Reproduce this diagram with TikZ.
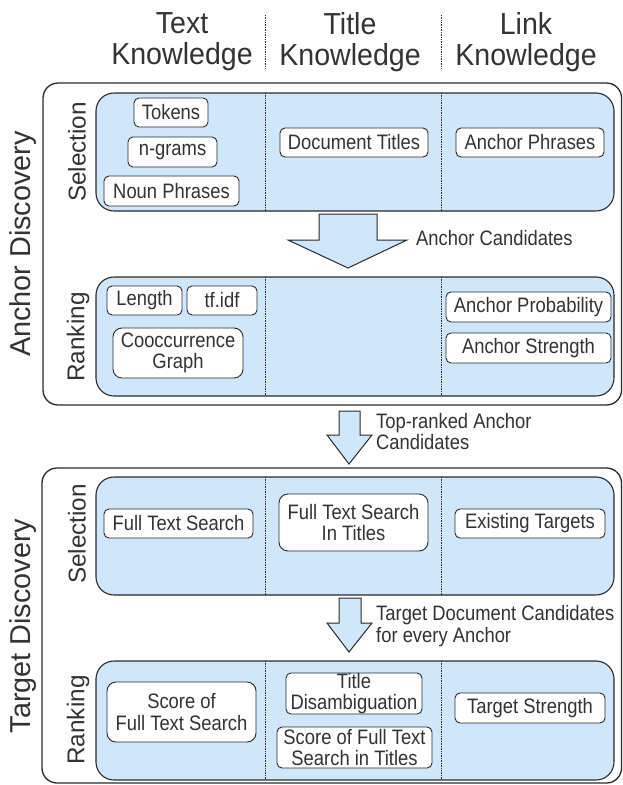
\documentclass[tikz,border=0pt]{standalone}
\usepackage{fontspec}
\setmainfont{Liberation Sans}
\newfontfamily\narrowfont{Liberation Sans}[FakeStretch=0.88]
\newfontfamily\hdnarrow{Liberation Sans}[FakeStretch=0.94]
\definecolor{lblue}{HTML}{CFE6FB}
\definecolor{ink}{HTML}{333333}
\definecolor{edge}{HTML}{2A2A2A}
\newcommand{\hdfont}{\hdnarrow\fontsize{30.4pt}{31pt}\selectfont}
\newcommand{\sdfont}{\fontsize{28.8pt}{31pt}\selectfont}
\newcommand{\itfont}{\narrowfont\fontsize{20.9pt}{21.5pt}\selectfont}
\newcommand{\lbfont}{\fontsize{24.3pt}{26pt}\selectfont}
\begin{document}
\begin{tikzpicture}[x=1pt,y=-1pt,
  every node/.style={text=ink},
  header/.style={font=\hdfont, align=center, inner sep=0pt},
  sidelabel/.style={font=\sdfont, rotate=90, inner sep=0pt},
  phaselabel/.style={font=\lbfont, rotate=90, inner sep=0pt},
  outerbox/.style={draw=edge, line width=1.3pt, fill=white, rounded corners=15pt},
  innerbox/.style={draw=edge, line width=1.1pt, fill=lblue, rounded corners=18pt},
  item/.style={draw=edge, line width=0.9pt, fill=white, rounded corners=5pt,
    font=\itfont, align=center, inner sep=0pt},
  bigitem/.style={item, rounded corners=9pt},
  divider/.style={draw=edge, densely dotted, line width=0.7pt},
  blockarrow/.style={draw=edge, line width=1pt, fill=lblue, line join=miter},
  arrowlabel/.style={font=\itfont, align=left, inner sep=0pt, anchor=west}
]
\useasboundingbox (0,0) rectangle (623,785);

% header
\node[header] (hText)  at (182,42) {Text\\Knowledge};
\node[header] (hTitle) at (350,42) {Title\\Knowledge};
\node[header] (hLink)  at (526,42) {Link\\Knowledge};
\draw[divider] (265,15) -- (265,68);
\draw[divider] (441,15) -- (441,68);

% outer boxes
\draw[outerbox] (43,83) rectangle (621.5,405);
\draw[outerbox] (42,468) rectangle (621.5,783);
\node[sidelabel] (anchorD) at (23,244) {Anchor Discovery};
\node[sidelabel] (targetD) at (23,626) {Target Discovery};

% inner boxes
\draw[innerbox] (96,93) rectangle (614,211);
\draw[innerbox] (96,277) rectangle (614,396);
\draw[innerbox] (96,477) rectangle (614,595);
\draw[innerbox] (96,661) rectangle (614,780);
\foreach \xx in {265,441}{
  \draw[divider] (\xx,93) -- (\xx,211);
  \draw[divider] (\xx,277) -- (\xx,396);
  \draw[divider] (\xx,477) -- (\xx,595);
  \draw[divider] (\xx,661) -- (\xx,780);
}
\node[phaselabel] (selA) at (77,152) {Selection};
\node[phaselabel] (rankA) at (78,337) {Ranking};
\node[phaselabel] (selT) at (77,534) {Selection};
\node[phaselabel] (rankT) at (78,720) {Ranking};

% anchor selection
\node[item, minimum width=74pt, minimum height=29pt] (tokens) at (171,112.5) {Tokens};
\node[item, minimum width=89pt, minimum height=30pt] (ngrams) at (172.5,152) {n-grams};
\node[item, minimum width=135pt, minimum height=30pt] (noun) at (171.5,191) {Noun Phrases};
\node[item, minimum width=148pt, minimum height=29pt] (doctitles) at (354,142.5) {Document Titles};
\node[item, minimum width=148pt, minimum height=29pt] (aphrases) at (530,142.5) {Anchor Phrases};

% anchor ranking
\node[item, minimum width=75pt, minimum height=29pt] (length) at (144.5,300.5) {Length};
\node[item, minimum width=70pt, minimum height=29pt] (tfidf) at (222,300.5) {tf.idf};
\node[bigitem, minimum width=130pt, minimum height=50pt] (cooc) at (178,353) {Cooccurrence\\Graph};
\node[item, minimum width=165pt, minimum height=30pt] (aprob) at (528.5,307) {Anchor Probability};
\node[item, minimum width=165pt, minimum height=30pt] (astr) at (528.5,348) {Anchor Strength};

% target selection
\node[item, minimum width=149pt, minimum height=29pt] (fts) at (178.5,523.5) {Full Text Search};
\node[bigitem, minimum width=149pt, minimum height=57pt] (ftstitles) at (353.5,522.5) {Full Text Search\\In Titles};
\node[item, minimum width=150pt, minimum height=29pt] (existing) at (530,523.5) {Existing Targets};

% target ranking
\node[bigitem, minimum width=149pt, minimum height=60pt] (scorefts) at (181.5,712) {Score of\\Full Text Search};
\node[item, minimum width=136pt, minimum height=41pt] (titledis) at (354,693.5) {Title\\Disambiguation};
\node[item, minimum width=155pt, minimum height=41pt] (scoretitles) at (354.5,747.5) {Score of Full Text\\Search in Titles};
\node[item, minimum width=150pt, minimum height=30pt] (tstr) at (530,708) {Target Strength};

% block arrows
\coordinate (a1) at (348,214);
\draw[blockarrow] (319,214) -- (377,214) -- (377,240) -- (407,240) -- (348,268) -- (288,240) -- (319,240) -- cycle;
\node[arrowlabel] (a1l) at (416,238) {Anchor Candidates};

\coordinate (a2) at (349,411);
\draw[blockarrow] (339,411) -- (360,411) -- (360,435) -- (372,435) -- (349,464) -- (327,435) -- (339,435) -- cycle;
\node[arrowlabel] (a2l) at (376,431.5) {Top-ranked Anchor\\Candidates};

\coordinate (a3) at (349,598);
\draw[blockarrow] (339,598) -- (361,598) -- (361,623) -- (372,623) -- (349,652) -- (327,623) -- (339,623) -- cycle;
\node[arrowlabel] (a3l) at (376,626) {Target Document Candidates\\for every Anchor};
\end{tikzpicture}
\end{document}
